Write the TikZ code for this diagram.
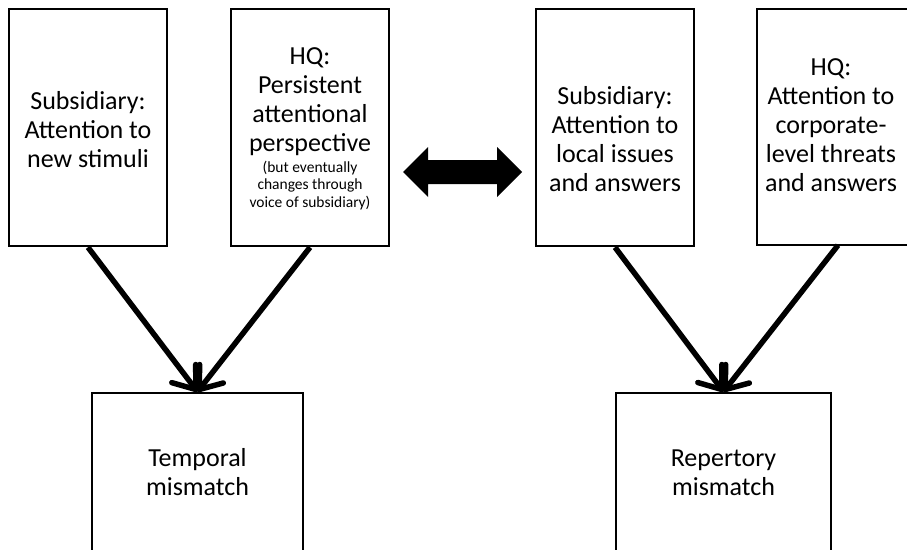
\documentclass[tikz,border=0pt]{standalone}
\usepackage{fontspec}
\setmainfont{Carlito}
\usetikzlibrary{arrows.meta}
\tikzset{
  box/.style={draw=black, line width=2.6pt, rectangle, inner sep=0pt},
  boxline/.style={draw=black, line width=2.6pt},
  bigtxt/.style={align=center, inner sep=0pt, font=\fontsize{26}{29}\selectfont},
  smalltxt/.style={align=center, inner sep=0pt, font=\fontsize{15.5}{17.5}\selectfont},
  flow/.style={line width=5.5pt, -{Straight Barb[length=20pt,width=30pt,round]}},
}
\begin{document}
\begin{tikzpicture}[x=1pt,y=-1pt]
\useasboundingbox (0,0) rectangle (907,549);
% top boxes
\node[box, minimum width=158pt, minimum height=237pt] (A) at (88,127.5) {};
\node[box, minimum width=158pt, minimum height=237pt] (B) at (310,127.5) {};
\node[box, minimum width=158pt, minimum height=237pt] (C) at (615,127.5) {};
% right box runs off the right edge of the picture
\node[inner sep=0pt, minimum width=162pt, minimum height=236pt] (D) at (838,127) {};
\draw[boxline] (907,9) -- (757,9) -- (757,245) -- (907,245);
% bottom boxes (cut by the lower edge)
\node[box, minimum width=211pt, minimum height=200pt] (E) at (197.5,493) {};
\node[box, minimum width=215pt, minimum height=200pt] (F) at (723.5,493) {};
% texts
\node[bigtxt] (tA) at (88,130) {Subsidiary:\\Attention to\\new stimuli};
\node[bigtxt] (tB) at (310,101.5) {HQ:\\Persistent\\attentional\\perspective};
\node[smalltxt] (tB2) at (310,185.5) {(but eventually\\changes through\\voice of subsidiary)};
\node[bigtxt] (tC) at (615,139.5) {Subsidiary:\\Attention to\\local issues\\and answers};
\node[bigtxt] (tD) at (831,125.5) {HQ:\\Attention to\\corporate-\\level threats\\and answers};
\node[bigtxt] (tE) at (197.5,472.5) {Temporal\\mismatch};
\node[bigtxt] (tF) at (723.5,472.5) {Repertory\\mismatch};
% connectors
\draw[flow] (A.south) -- (E.north);
\draw[flow] (B.south) -- (E.north);
\draw[flow] (C.south) -- (F.north);
\draw[flow] (D.south) -- (F.north);
% double arrow between the two halves
\fill[black] (403,172) -- (428,147) -- (428,160) -- (497,160) -- (497,147)
  -- (522,172) -- (497,197) -- (497,184) -- (428,184) -- (428,197) -- cycle;
\end{tikzpicture}
\end{document}
